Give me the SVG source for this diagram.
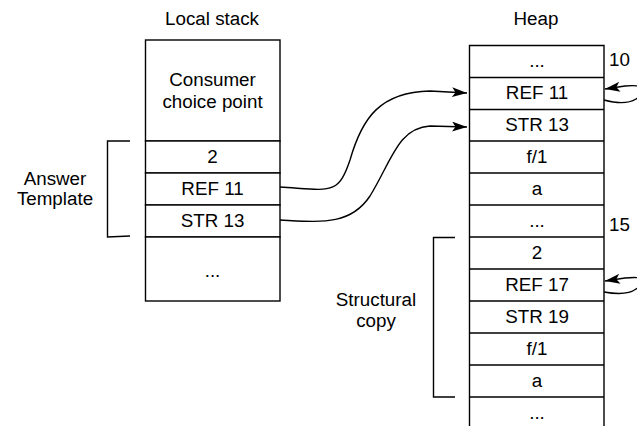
<svg xmlns="http://www.w3.org/2000/svg" width="637" height="426" viewBox="0 0 637 426">
<style>
text{font-family:"Liberation Sans",Arial,Helvetica,sans-serif;font-size:18.8px;fill:#000;text-anchor:middle}
.c{fill:#fff;stroke:#000;stroke-width:1.4}
.l{fill:none;stroke:#000;stroke-width:1.4}
.s{text-anchor:start}
</style>
<defs>
<marker id="ah" viewBox="0 0 15 10" refX="15" refY="5" markerWidth="15" markerHeight="10" markerUnits="userSpaceOnUse" orient="auto">
<path d="M0,0 L15,5 L0,10 L3.5,5 z" fill="#000"/>
</marker>
</defs>
<text x="212" y="25">Local stack</text>
<text x="536" y="25">Heap</text>
<g id="local">
<rect class="c" x="145.5" y="40" width="134.5" height="101"/>
<text x="212.5" y="86">Consumer</text>
<text x="212.5" y="108">choice point</text>
<rect class="c" x="145.5" y="141" width="134.5" height="32"/><text x="212.5" y="163">2</text>
<rect class="c" x="145.5" y="173" width="134.5" height="32"/><text x="212.5" y="195">REF 11</text>
<rect class="c" x="145.5" y="205" width="134.5" height="32"/><text x="212.5" y="227">STR 13</text>
<rect class="c" x="145.5" y="237" width="134.5" height="64"/><text x="212.5" y="277">...</text>
</g>
<g id="answer-template">
<path class="l" d="M130,141 L107.5,141 L107.5,237 L130,236"/>
<text x="55" y="185">Answer</text>
<text x="55" y="205">Template</text>
</g>
<g id="heap">
<path class="l" d="M469.5,426 L469.5,45.5 L604,45.5 L604,426"/>
<path class="l" d="M469.5,77.5H604M469.5,109.5H604M469.5,141H604M469.5,173H604M469.5,205H604M469.5,237H604M469.5,269H604M469.5,301H604M469.5,333H604M469.5,365H604M469.5,397H604"/>
<text x="537" y="67">...</text>
<text x="537" y="99">REF 11</text>
<text x="537" y="131">STR 13</text>
<text x="537" y="163">f/1</text>
<text x="537" y="195">a</text>
<text x="537" y="227">...</text>
<text x="537" y="259">2</text>
<text x="537" y="291">REF 17</text>
<text x="537" y="323">STR 19</text>
<text x="537" y="355">f/1</text>
<text x="537" y="387">a</text>
<text x="537" y="419">...</text>
<text class="s" x="609" y="66">10</text>
<text class="s" x="609" y="231">15</text>
</g>
<g id="structural-copy">
<path class="l" d="M455,237.5 L433.5,237.5 L433.5,397 L455,397"/>
<text x="376" y="306">Structural</text>
<text x="376" y="327">copy</text>
</g>
<g id="connectors">
<path class="l" marker-end="url(#ah)" d="M280,187 C330,190 338,196 350,160 C362,118 380,92 430,91 L467,93"/>
<path class="l" marker-end="url(#ah)" d="M280,220 C320,222 350,226 370,196 C392,160 398,128 430,126 L467,127"/>
<path class="l" marker-end="url(#ah)" d="M604,100 C615,103 628,104 636,99 C650,90 645,84 625,86 L605,89"/>
<path class="l" marker-end="url(#ah)" d="M604,292 C615,294 628,295 636,289 C650,280 645,276 625,278 L605,281"/>
</g>
</svg>
